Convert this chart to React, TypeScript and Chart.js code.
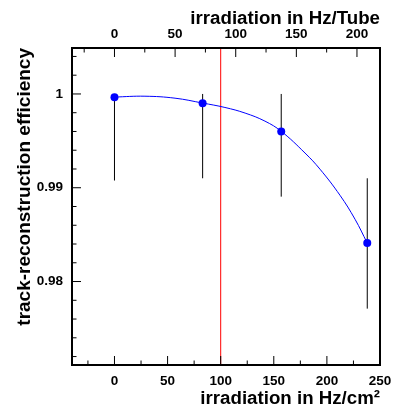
import React, { useEffect, useRef } from "react";
import { Chart, registerables } from "chart.js";

Chart.register(...registerables);

// Measured points (irradiation in Hz/cm², efficiency)
const pointX = [0, 83, 157, 238];
const pointY = [0.99966, 0.99902, 0.996, 0.9841];
const errLow = [0.99077, 0.99101, 0.98905, 0.97711];
const errHigh = [1.0, 1.0, 1.0, 0.99101];

// Smooth curve
const curveX = [0, 28.7, 57, 83, 104, 123, 141.7, 157, 179.4, 193.5, 212.3, 226.5, 238];
const curveY = [0.99967, 0.99976, 0.99955, 0.99903, 0.99856, 0.99796, 0.9971, 0.99602, 0.9937, 0.99198, 0.9892, 0.98664, 0.9841];

// Axis ticks
const bottomTicks = [0, 50, 100, 150, 200, 250];
const bottomMinor = [-25, 25, 75, 125, 175, 225];
const topTicks = [0, 50, 100, 150, 200];
const topMinor = [-25, 25, 75, 125, 175];
const yTicks = [0.98, 0.99, 1];
const yMinor = [0.972, 0.974, 0.976, 0.978, 0.982, 0.984, 0.986, 0.988, 0.992, 0.994, 0.996, 0.998, 1.002, 1.004];

const markerLine = 100;

const FONT = "'Liberation Sans', Arial, Helvetica, sans-serif";

const decor = {
  id: "decor",
  beforeDatasetsDraw(chart: any) {
    const { ctx, chartArea: a, scales } = chart;
    const x = scales.x;
    const y = scales.y;
    ctx.save();
    ctx.beginPath();
    ctx.rect(a.left, a.top, a.right - a.left, a.bottom - a.top);
    ctx.clip();
    const rx = x.getPixelForValue(markerLine);
    ctx.strokeStyle = "#ff0000";
    ctx.lineWidth = 1;
    ctx.beginPath();
    ctx.moveTo(rx, a.top);
    ctx.lineTo(rx, a.bottom);
    ctx.stroke();
    ctx.strokeStyle = "#000000";
    pointX.forEach((v, i) => {
      const px = x.getPixelForValue(v);
      ctx.beginPath();
      ctx.moveTo(px, y.getPixelForValue(errHigh[i]));
      ctx.lineTo(px, y.getPixelForValue(errLow[i]));
      ctx.stroke();
    });
    ctx.restore();
  },
  afterDatasetsDraw(chart: any) {
    const { ctx, chartArea: a, scales } = chart;
    const x = scales.x;
    const x2 = scales.x2;
    const y = scales.y;
    ctx.save();
    ctx.strokeStyle = "#000000";
    ctx.lineWidth = 1;
    const vt = (px: number, y0: number, len: number) => {
      ctx.beginPath();
      ctx.moveTo(px, y0);
      ctx.lineTo(px, y0 + len);
      ctx.stroke();
    };
    const ht = (py: number, x0: number, len: number) => {
      ctx.beginPath();
      ctx.moveTo(x0, py);
      ctx.lineTo(x0 + len, py);
      ctx.stroke();
    };
    bottomTicks.forEach((v) => vt(x.getPixelForValue(v), a.bottom, -9));
    bottomMinor.forEach((v) => vt(x.getPixelForValue(v), a.bottom, -4.5));
    topTicks.forEach((v) => vt(x2.getPixelForValue(v), a.top, 9));
    topMinor.forEach((v) => vt(x2.getPixelForValue(v), a.top, 4.5));
    yTicks.forEach((v) => ht(y.getPixelForValue(v), a.left, 9));
    yMinor.forEach((v) => ht(y.getPixelForValue(v), a.left, 4.5));
    ctx.lineWidth = 2;
    ctx.strokeRect(a.left, a.top, a.right - a.left, a.bottom - a.top);
    ctx.restore();
  },
};

const zeroPad = (s: any) => {
  s.paddingLeft = 0;
  s.paddingRight = 0;
  s.paddingTop = 0;
  s.paddingBottom = 0;
};

export default function App() {
  const ref = useRef<HTMLCanvasElement | null>(null);
  useEffect(() => {
    document.body.style.margin = "0";
    const canvas = ref.current;
    if (!canvas) return;
    const tickFont = { family: FONT, size: 13.5, weight: "bold" as const };
    const titleFont = { family: FONT, size: 18.7, weight: "bold" as const };
    const chart = new Chart(canvas, {
      type: "scatter",
      data: {
        datasets: [
          {
            label: "points",
            data: pointX.map((v, i) => ({ x: v, y: pointY[i] })),
            pointRadius: 4,
            pointHoverRadius: 4,
            backgroundColor: "#0000ff",
            borderWidth: 0,
            showLine: false,
          },
          {
            label: "curve",
            data: curveX.map((v, i) => ({ x: v, y: curveY[i] })),
            showLine: true,
            borderColor: "#0000ff",
            borderWidth: 1,
            pointRadius: 0,
            tension: 0.4,
            fill: false,
          },
        ],
      },
      options: {
        responsive: false,
        animation: false,
        devicePixelRatio: 1,
        events: [],
        layout: { padding: { left: 0, right: 14, top: 0, bottom: 0 } },
        plugins: { legend: { display: false }, tooltip: { enabled: false } },
        scales: {
          x: {
            type: "linear",
            position: "bottom",
            min: -40,
            max: 250,
            grid: { display: false, drawTicks: false },
            border: { display: false },
            afterBuildTicks: (s: any) => {
              s.ticks = bottomTicks.map((v) => ({ value: v }));
            },
            afterFit: (s: any) => {
              s.height = 47;
              zeroPad(s);
            },
            ticks: { font: tickFont, color: "#000", padding: 8, maxRotation: 0, autoSkip: false },
            title: {
              display: true,
              text: "irradiation in Hz/cm\u00b2",
              align: "end",
              color: "#000",
              font: titleFont,
              padding: { top: 0, bottom: 1.5 },
            },
          },
          x2: {
            type: "linear",
            position: "top",
            min: -35.04,
            max: 219,
            grid: { display: false, drawTicks: false },
            border: { display: false },
            afterBuildTicks: (s: any) => {
              s.ticks = topTicks.map((v) => ({ value: v }));
            },
            afterFit: (s: any) => {
              s.height = 48;
              zeroPad(s);
            },
            ticks: { font: tickFont, color: "#000", padding: 5.5, maxRotation: 0, autoSkip: false },
            title: {
              display: true,
              text: "irradiation in Hz/Tube",
              align: "end",
              color: "#000",
              font: titleFont,
              padding: { top: 7.3, bottom: 0 },
            },
          },
          y: {
            type: "linear",
            position: "left",
            min: 0.9711,
            max: 1.0049,
            grid: { display: false, drawTicks: false },
            border: { display: false },
            afterBuildTicks: (s: any) => {
              s.ticks = yTicks.map((v) => ({ value: v }));
            },
            afterFit: (s: any) => {
              s.width = 72;
              zeroPad(s);
            },
            ticks: {
              font: tickFont,
              color: "#000",
              padding: 9,
              autoSkip: false,
              callback: (v: any) => (Number(v) === 1 ? "1" : Number(v).toFixed(2)),
            },
            title: {
              display: true,
              text: "track-reconstruction efficiency",
              align: "end",
              color: "#000",
              font: { family: FONT, size: 19, weight: "bold" as const },
              padding: { top: 13, bottom: 0 },
            },
          },
        },
      },
      plugins: [decor],
    });
    return () => chart.destroy();
  }, []);
  return <canvas ref={ref} width={394} height={412} style={{ display: "block" }} />;
}
